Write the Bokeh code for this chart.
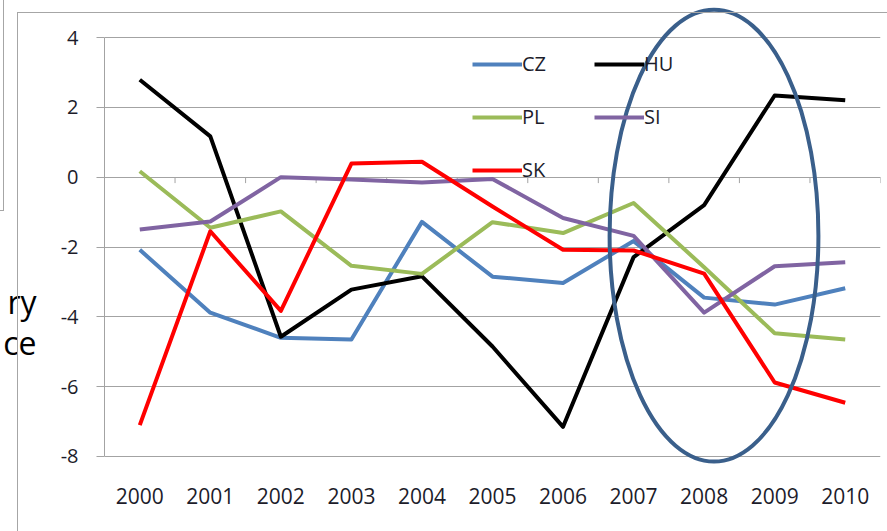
from bokeh.plotting import figure
from bokeh.models import (Legend, LegendItem, FixedTicker, Range1d, LinearAxis)
from bokeh.embed import file_html
from bokeh.resources import INLINE

# ---- data ----
years = ["2000", "2001", "2002", "2003", "2004", "2005",
         "2006", "2007", "2008", "2009", "2010"]
CZ = [-2.08, -3.88, -4.60, -4.65, -1.28, -2.85, -3.03, -1.83, -3.45, -3.65, -3.18]
HU = [2.79, 1.17, -4.57, -3.22, -2.84, -4.85, -7.15, -2.29, -0.80, 2.34, 2.20]
PL = [0.17, -1.45, -0.98, -2.54, -2.77, -1.29, -1.60, -0.74, -2.58, -4.47, -4.65]
SI = [-1.50, -1.27, 0.00, -0.07, -0.15, -0.05, -1.17, -1.68, -3.88, -2.55, -2.44]
SK = [-7.10, -1.55, -3.83, 0.39, 0.44, -0.84, -2.08, -2.10, -2.76, -5.88, -6.46]
series_names = ["CZ", "HU", "PL", "SI", "SK"]
series_colors = ["#4f81bd", "#000000", "#9bbb59", "#8064a2", "#ff0000"]
y_ticks = [-8, -6, -4, -2, 0, 2, 4]
side_lines = ["", "", "", "", "ry", "ce"]   # partly hidden slide text (padded down)

# highlighted period (ellipse around 2007-2009)
ell_x = [8.14]
ell_y = [-1.675]
ell_w = [2.96]
ell_h = [12.94]

FONT = "Open Sans"
GRID = "#a3a3a3"
TXT = "#1c1c2a"

x = list(range(len(years)))

p = figure(width=887, height=531, output_backend="svg", toolbar_location=None,
           x_range=Range1d(-0.5, len(years) - 0.5),
           y_range=Range1d(-8.401, 4.888),
           min_border_left=97, min_border_right=7,
           min_border_top=6, min_border_bottom=61)
p.outline_line_color = None
p.background_fill_color = "white"
p.border_fill_color = "white"

# grid
p.xgrid.visible = False
p.ygrid.grid_line_color = GRID
p.ygrid.grid_line_width = 1

# y axis
p.yaxis.ticker = FixedTicker(ticks=y_ticks)
p.yaxis.major_label_overrides = {t: str(t) for t in y_ticks}
p.yaxis.bounds = (min(y_ticks), max(y_ticks))
p.yaxis.axis_line_color = GRID
p.yaxis.major_tick_line_color = GRID
p.yaxis.major_tick_out = 8
p.yaxis.major_tick_in = 0
p.yaxis.minor_tick_line_color = None
p.yaxis.major_label_standoff = 18
p.yaxis.major_label_text_font = FONT
p.yaxis.major_label_text_font_size = "20px"
p.yaxis.major_label_text_color = TXT

# x axis (labels only at bottom)
p.xaxis.ticker = FixedTicker(ticks=x)
p.xaxis.major_label_overrides = {i: y for i, y in enumerate(years)}
p.xaxis.axis_line_color = None
p.xaxis.major_tick_line_color = None
p.xaxis.minor_tick_line_color = None
p.xaxis.major_label_standoff = 11
p.xaxis.major_label_text_font = FONT
p.xaxis.major_label_text_font_size = "21px"
p.xaxis.major_label_text_color = TXT

# extra left axis only carrying the clipped slide text
side_axis = LinearAxis(ticker=FixedTicker(ticks=[]),
                       axis_line_color=None, major_tick_line_color=None,
                       minor_tick_line_color=None, major_label_text_font_size="0px",
                       axis_label="\n".join(side_lines),
                       axis_label_orientation="horizontal",
                       axis_label_standoff=21, axis_label_text_font=FONT,
                       axis_label_text_font_size="32px",
                       axis_label_text_font_style="normal",
                       axis_label_text_line_height=0.97,
                       axis_label_text_color="black")
p.add_layout(side_axis, "left")

# category-boundary tick marks on the zero line
bounds = [i + 0.5 for i in x]
p.segment(x0=bounds, y0=[0] * len(bounds), x1=bounds, y1=[-0.17] * len(bounds),
          line_color=GRID, line_width=1)

# series
renderers = []
for name, vals, col in zip(series_names, [CZ, HU, PL, SI, SK], series_colors):
    r = p.line(x, vals, line_color=col, line_width=4, line_join="round")
    renderers.append(r)

# highlight ellipse
p.ellipse(x=ell_x, y=ell_y, width=ell_w, height=ell_h, fill_alpha=0,
          line_color="#3a5f8b", line_width=4)

legend = Legend(items=[LegendItem(label=n, renderers=[r])
                       for n, r in zip(series_names, renderers)],
                location=(368, 287), orientation="horizontal", ncols=2,
                glyph_width=50, glyph_height=26, label_height=26, label_width=46,
                label_standoff=0, spacing=26, padding=0, margin=0,
                border_line_color=None, background_fill_alpha=0,
                label_text_font=FONT, label_text_font_size="20px",
                label_text_color=TXT)
p.add_layout(legend)

# frames of the embedded objects (drawn with CSS on the plot element)
p.stylesheets = [
    ":host { position: relative; }"
    ":host::after { content: ''; position: absolute; left: 17px; top: 12px;"
    " right: 0; bottom: 0; border-left: 1px solid #a6a6a6;"
    " border-top: 1px solid #a6a6a6; pointer-events: none; }"
    ":host::before { content: ''; position: absolute; left: 0; top: 0;"
    " width: 3px; height: 210px; border-right: 1px solid #a6a6a6;"
    " border-bottom: 1px solid #a6a6a6; pointer-events: none; z-index: 2; }"
]

open("out.html", "w").write(file_html(p, INLINE))
